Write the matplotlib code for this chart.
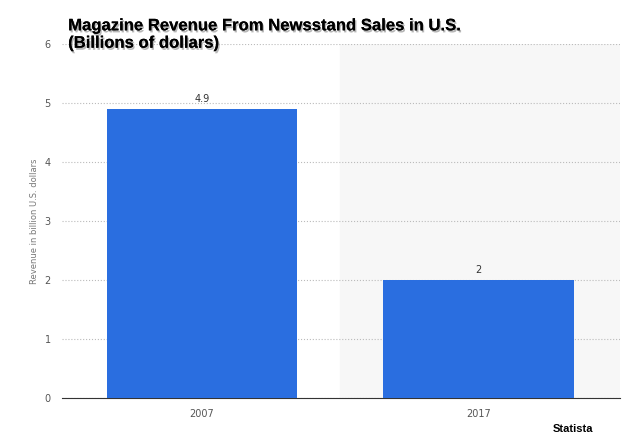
import matplotlib
matplotlib.use('Agg')
import matplotlib.pyplot as plt
import matplotlib.patheffects as pe

years = ["2007", "2017"]
revenue = [4.9, 2.0]
labels = ["4.9", "2"]

fig = plt.figure(figsize=(6.31, 4.41), dpi=100)
ax = fig.add_axes([0.098, 0.0975, 0.885, 0.8025])
x = list(range(len(years)))
ax.axvspan(0.5, 1.6, color='#f7f7f7', zorder=0)
ax.bar(x, revenue, width=0.69, color='#2a6ee0', zorder=3)
for xi, v, t in zip(x, revenue, labels):
    ax.text(xi, v + 0.08, t, ha='center', va='bottom', fontsize=7, color='#333333')
ax.set_xlim(-0.507, 1.514)
ax.set_ylim(0, 6)
ax.set_yticks(range(7))
ax.set_xticks(x)
ax.set_xticklabels(years)
ax.tick_params(labelsize=7, colors='#555555', length=0, pad=8)
ax.grid(axis='y', linestyle=':', color='#bbbbbb', linewidth=0.8, zorder=1)
for s in ['top', 'right', 'left']:
    ax.spines[s].set_visible(False)
ax.spines['bottom'].set_color('#333333')
ax.set_ylabel('Revenue in billion U.S. dollars', fontsize=6, color='#777777')

title = fig.text(0.108, 0.885, "Magazine Revenue From Newsstand Sales in U.S.\n(Billions of dollars)",
                 fontsize=12, fontweight='bold', family='Liberation Sans', va='bottom', linespacing=1.2)
title.set_path_effects([pe.withSimplePatchShadow(offset=(1, -1.5), shadow_rgbFace='#888888', alpha=0.6), pe.Normal()])
fig.text(0.94, 0.02, "Statista", fontsize=8, fontweight='bold', ha='right', family='Liberation Sans')

plt.savefig('out.png', dpi=100)
